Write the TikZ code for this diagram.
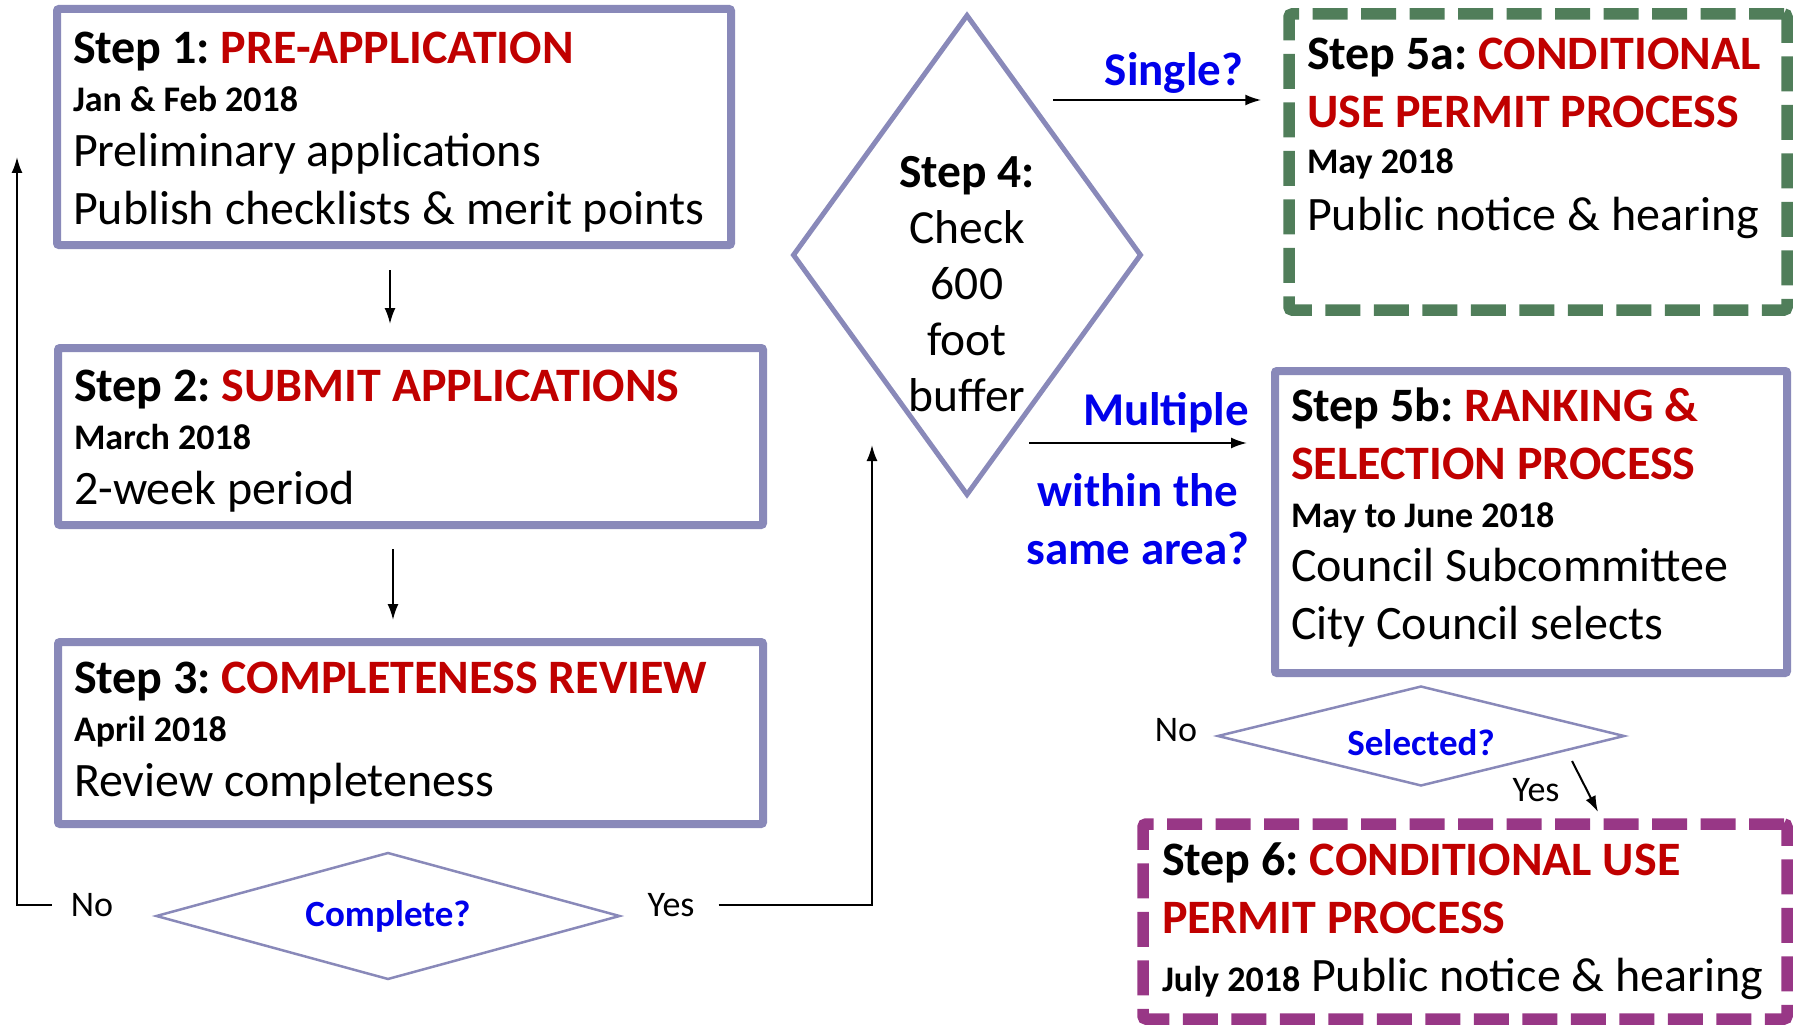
\documentclass[tikz,border=0pt]{standalone}
\usepackage{fontspec}
\setmainfont{Carlito}
\usetikzlibrary{arrows.meta,shapes.geometric}

\definecolor{boxline}{RGB}{137,137,185}
\definecolor{stepred}{RGB}{192,0,0}
\definecolor{askblue}{RGB}{0,0,235}
\definecolor{cupgreen}{RGB}{80,126,90}
\definecolor{cupmagenta}{RGB}{152,55,134}

\newcommand{\bigf}{\fontsize{48}{58}\selectfont\frenchspacing}
\newcommand{\datef}{\fontsize{36}{44}\selectfont\bfseries}
\newcommand{\smallf}{\fontsize{36}{44}\selectfont}
\newcommand{\stephead}[2]{\textbf{#1 }{\color{stepred}\textbf{#2}}}
\newcommand{\redline}[1]{{\color{stepred}\textbf{#1}}}
\newcommand{\topstrut}[1]{\rule{0pt}{#1}}
\newcommand{\botstrut}[1]{\rule[-#1]{0pt}{0pt}}

\tikzset{
	stepbox/.style={draw=boxline, line width=8pt, rounded corners=2pt, align=flush left, inner xsep=16pt, inner ysep=0pt, font=\bigf},
	cupbox/.style={line width=11.5pt, dash pattern=on 35pt off 13.5pt, rounded corners=3pt, align=flush left, inner xsep=16pt, inner ysep=0pt, font=\bigf},
	askdiam/.style={diamond, aspect=4, draw=boxline, line width=2.5pt, text=askblue, font=\fontsize{37}{44}\selectfont\bfseries, inner sep=0pt},
	asklbl/.style={text=askblue, font=\fontsize{47}{58}\selectfont\bfseries, inner sep=0pt},
	lbl/.style={font=\smallf, inner sep=0pt},
	arr/.style={-{Latex[length=16pt,width=11pt]}, line width=2pt}
}

\begin{document}
\begin{tikzpicture}[x=1pt,y=-1pt]

		\useasboundingbox (0,0) rectangle (1800,1030);

		\node[stepbox, text width=642pt, minimum height=236pt] (s1) at (394,127) {\topstrut{41pt}\stephead{Step 1:}{PRE-APPLICATION}\\[-10pt]{\datef Jan \& Feb 2018}\\[-3pt]Preliminary applications\\Publish checklists \& merit points};
		\node[stepbox, text width=673pt, minimum height=177pt] (s2) at (410.5,436.5) {\topstrut{41pt}\stephead{Step 2:}{SUBMIT APPLICATIONS}\\[-10pt]{\datef March 2018}\\[-3pt]2-week period};
		\node[stepbox, text width=673pt, minimum height=182pt] (s3) at (410.5,733) {\stephead{Step 3:}{COMPLETENESS REVIEW}\\[-10pt]{\datef April 2018}\\[-3pt]Review completeness};

		\node[askdiam, minimum width=464pt, minimum height=127pt] (d3) at (388,916) {Complete?};
		\node[lbl] (n3) at (92,905) {No};
		\node[lbl] (y3) at (671,905) {Yes};
		\coordinate (up3) at (17,157);
		\coordinate (up4) at (872,445);

		\node[diamond, draw=boxline, line width=5pt, minimum width=349pt, minimum height=481pt, inner sep=0pt] (d4) at (967,255) {};
		\node[font=\fontsize{47.5}{56}\selectfont, align=center, inner sep=0pt] (d4t) at (967,284) {\textbf{Step 4:}\\Check\\600\\foot\\buffer};

		\node[asklbl] (qs) at (1174,73) {Single?};
		\node[asklbl, anchor=east] (qm) at (1249,413) {Multiple};
		\node[asklbl, align=center] (qw) at (1138,519) {within the\\same area?};
		\coordinate (sgl) at (1053,100);
		\coordinate (mlt) at (1029,443);

		\node[cupbox, draw=cupgreen, inner xsep=18pt, text width=462pt, minimum height=296pt] (s5a) at (1538,162) {\stephead{Step 5a:}{CONDITIONAL}\\\redline{USE PERMIT PROCESS}\\[-12pt]{\datef May 2018}\\[-1pt]Public notice \& hearing\botstrut{55pt}};
		\node[stepbox, text width=480pt, minimum height=302pt] (s5b) at (1531,522) {\stephead{Step 5b:}{RANKING \&}\\\redline{SELECTION PROCESS}\\[-10pt]{\datef May to June 2018}\\[-4pt]Council Subcommittee\\City Council selects\botstrut{17pt}};

		\node[askdiam, minimum width=407pt, minimum height=100pt] (d5) at (1421,736) {\topstrut{39pt}Selected?};
		\node[lbl] (n5) at (1176,730) {No};
		\node[lbl] (y5) at (1536,790) {Yes};
		\coordinate (ys1) at (1572,761);
		\coordinate (ys2) at (1598,812);

		\node[cupbox, draw=cupmagenta, inner xsep=19pt, text width=606pt, minimum height=195pt] (s6) at (1465,921.5) {\stephead{Step 6:}{CONDITIONAL USE}\\\redline{PERMIT PROCESS}\\{\datef July 2018} Public notice \& hearing};

		\draw[arr, shorten <=21pt, shorten >=20pt] (s1.south -| 390,0) to (s2.north -| 390,0);
		\draw[arr, shorten <=20pt, shorten >=18pt] (s2.south -| 393,0) to (s3.north -| 393,0);

		\draw[arr, shorten <=19pt] (n3.west) -| (up3);
		\draw[arr, shorten <=24pt] (y3.east) -| (up4);

		\draw[arr, shorten >=22pt] (sgl) to (sgl -| s5a.west);
		\draw[arr, shorten >=24pt] (mlt) to (mlt -| s5b.west);

		\draw[arr] (ys1) to (ys2);

\end{tikzpicture}
\end{document}
